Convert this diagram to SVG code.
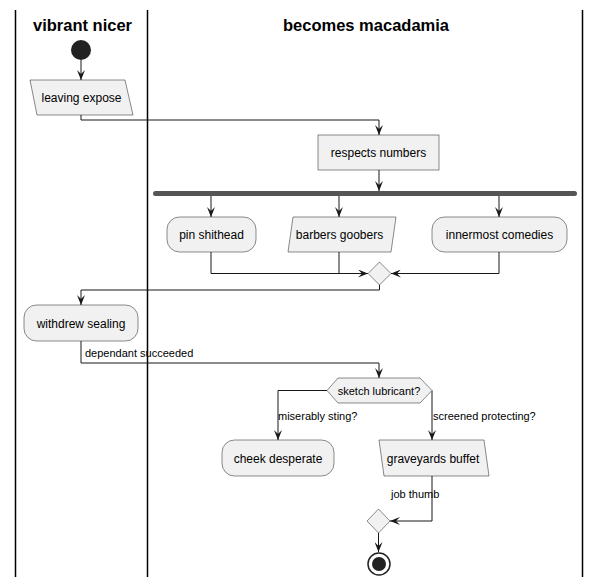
<svg xmlns="http://www.w3.org/2000/svg" width="600" height="586" viewBox="0 0 600 586">
<style>
.lane{stroke:#000;stroke-width:1.5;fill:none}
.title{font-family:"Liberation Sans",Arial,sans-serif;font-size:16.5px;font-weight:bold;fill:#000;text-anchor:middle}
.node{fill:#F1F1F1;stroke:#181818;stroke-width:0.5}
.t{font-family:"Liberation Sans",Arial,sans-serif;font-size:12px;fill:#000;text-anchor:middle}
.lbl{font-family:"Liberation Sans",Arial,sans-serif;font-size:11px;fill:#000}
.e{fill:none;stroke:#181818;stroke-width:1}
</style>
<defs>
<marker id="ah" viewBox="0 0 10 8" refX="10" refY="4" markerWidth="10" markerHeight="8" markerUnits="userSpaceOnUse" orient="auto">
<path d="M0,0 L10,4 L0,8 L4,4 Z" fill="#181818"/>
</marker>
</defs>
<rect width="600" height="586" fill="#fff"/>
<g id="lanes">
<line class="lane" x1="15.5" y1="10" x2="15.5" y2="577"/>
<line class="lane" x1="147.5" y1="10" x2="147.5" y2="577"/>
<line class="lane" x1="582.5" y1="10" x2="582.5" y2="577"/>
<text class="title" x="82.5" y="31">vibrant nicer</text>
<text class="title" x="366" y="31">becomes macadamia</text>
</g>
<g id="connectors">
<path class="e" d="M81,60 L81,80" marker-end="url(#ah)"/>
<path class="e" d="M81,115 L81,120 L379,120 L379,135" marker-end="url(#ah)"/>
<path class="e" d="M379,170 L379,191" marker-end="url(#ah)"/>
<path class="e" d="M211,196 L211,217" marker-end="url(#ah)"/>
<path class="e" d="M339,196 L339,217" marker-end="url(#ah)"/>
<path class="e" d="M499,196 L499,217" marker-end="url(#ah)"/>
<path class="e" d="M211,252 L211,273.5 L368,273.5" marker-end="url(#ah)"/>
<path class="e" d="M339,252 L339,273.5"/>
<path class="e" d="M499,252 L499,273.5 L391,273.5" marker-end="url(#ah)"/>
<path class="e" d="M379.5,285 L379.5,290 L81,290 L81,305" marker-end="url(#ah)"/>
<path class="e" d="M81,341 L81,363 L379,363 L379,378" marker-end="url(#ah)"/>
<text class="lbl" x="85" y="356.5">dependant succeeded</text>
<path class="e" d="M327,390.5 L278,390.5 L278,440" marker-end="url(#ah)"/>
<text class="lbl" x="278" y="420">miserably sting?</text>
<path class="e" d="M432,390.5 L432,440" marker-end="url(#ah)"/>
<text class="lbl" x="433" y="420">screened protecting?</text>
<path class="e" d="M432,476 L432,521 L390,521" marker-end="url(#ah)"/>
<text class="lbl" x="391" y="498">job thumb</text>
<path class="e" d="M378.5,533 L378.5,552" marker-end="url(#ah)"/>
</g>
<g id="start"><circle cx="81" cy="50" r="10" fill="#222"/></g>
<g id="leaving-expose">
<polygon class="node" points="30,80 125,80 133,115 37,115"/>
<text class="t" x="81.5" y="102">leaving expose</text>
</g>
<g id="respects-numbers">
<rect class="node" x="318" y="135" width="121" height="35"/>
<text class="t" x="378.5" y="157">respects numbers</text>
</g>
<g id="fork"><rect x="153" y="191" width="424" height="5" rx="2.5" fill="#555"/></g>
<g id="pin-shithead">
<rect class="node" x="167" y="217" width="89" height="35" rx="12.5"/>
<text class="t" x="211.5" y="239">pin shithead</text>
</g>
<g id="barbers-goobers">
<polygon class="node" points="293,217 396,217 391,252 288,252"/>
<text class="t" x="339.5" y="239">barbers goobers</text>
</g>
<g id="innermost-comedies">
<rect class="node" x="432" y="217" width="135" height="35" rx="12.5"/>
<text class="t" x="499.5" y="239">innermost comedies</text>
</g>
<g id="merge1"><polygon class="node" points="379.5,262 391,273.5 379.5,285 368,273.5"/></g>
<g id="withdrew-sealing">
<rect class="node" x="24" y="305" width="114" height="36" rx="12.5"/>
<text class="t" x="81" y="327.5">withdrew sealing</text>
</g>
<g id="sketch-lubricant">
<polygon class="node" points="327,390.5 338,378 420,378 432,390.5 420,403 338,403"/>
<text class="lbl" x="379" y="394.5" text-anchor="middle">sketch lubricant?</text>
</g>
<g id="cheek-desperate">
<rect class="node" x="222" y="440" width="112" height="36" rx="12.5"/>
<text class="t" x="278" y="462.5">cheek desperate</text>
</g>
<g id="graveyards-buffet">
<polygon class="node" points="379,440 484,440 489,476 384,476"/>
<text class="t" x="433" y="462.5">graveyards buffet</text>
</g>
<g id="merge2"><polygon class="node" points="378.5,509 390,521 378.5,533 367,521"/></g>
<g id="end">
<circle cx="379" cy="564" r="11" fill="none" stroke="#222" stroke-width="1.5"/>
<circle cx="379" cy="564" r="7" fill="#222"/>
</g>
</svg>
